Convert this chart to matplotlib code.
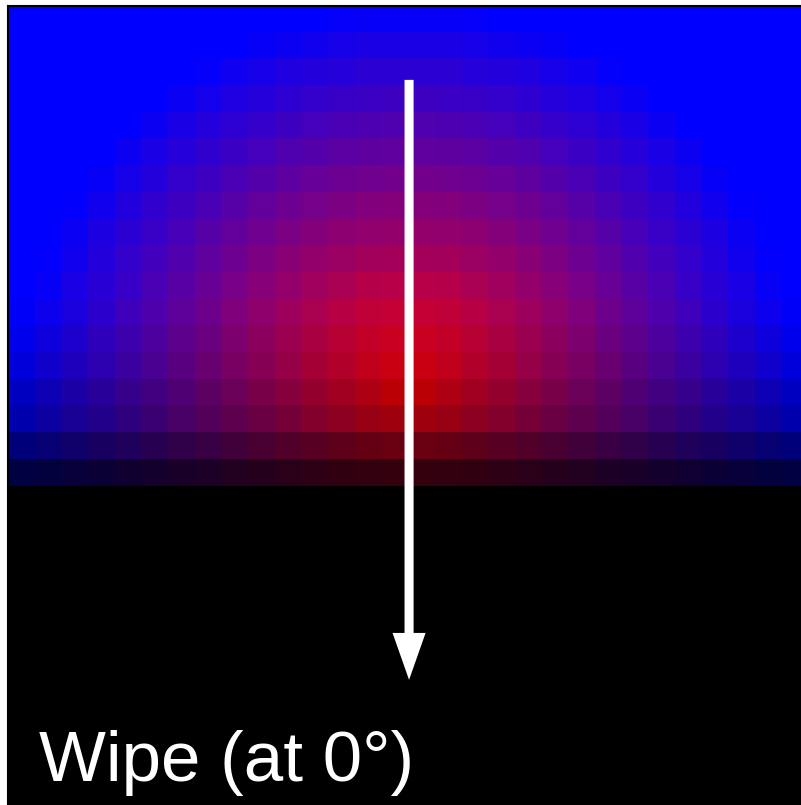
import numpy as np
import matplotlib
matplotlib.use("Agg")
import matplotlib.pyplot as plt


# ------------------------------------------- #
#  Data                #
# ------------------------------------------- #
# red share (percent) of every visible cell, rows top -> bottom, 30 columns
red_share = [
    [0, 0, 0, 0, 0, 0, 0, 0, 0, 0, 0, 0, 2, 3, 3, 3, 3, 2, 0, 0, 0, 0, 0, 0, 0, 0, 0, 0, 0, 0],
    [0, 0, 0, 0, 0, 0, 0, 0, 0, 3, 5, 7, 9, 10, 10, 10, 10, 9, 7, 5, 3, 0, 0, 0, 0, 0, 0, 0, 0, 0],
    [0, 0, 0, 0, 0, 0, 0, 2, 6, 9, 12, 14, 15, 17, 17, 17, 17, 15, 14, 12, 9, 6, 2, 0, 0, 0, 0, 0, 0, 0],
    [0, 0, 0, 0, 0, 0, 4, 8, 12, 15, 18, 20, 22, 23, 24, 24, 23, 22, 20, 18, 15, 12, 8, 4, 0, 0, 0, 0, 0, 0],
    [0, 0, 0, 0, 0, 5, 10, 14, 18, 21, 24, 27, 29, 30, 31, 31, 30, 29, 27, 24, 21, 18, 14, 10, 5, 0, 0, 0, 0, 0],
    [0, 0, 0, 0, 5, 10, 15, 19, 23, 27, 31, 33, 36, 37, 38, 38, 37, 36, 33, 31, 27, 23, 19, 15, 10, 5, 0, 0, 0, 0],
    [0, 0, 0, 3, 9, 14, 20, 24, 29, 33, 37, 40, 42, 44, 45, 45, 44, 42, 40, 37, 33, 29, 24, 20, 14, 9, 3, 0, 0, 0],
    [0, 0, 1, 7, 13, 19, 24, 29, 34, 39, 43, 46, 49, 51, 52, 52, 51, 49, 46, 43, 39, 34, 29, 24, 19, 13, 7, 1, 0, 0],
    [0, 0, 4, 11, 17, 22, 28, 34, 39, 44, 48, 52, 55, 57, 58, 58, 57, 55, 52, 48, 44, 39, 34, 28, 22, 17, 11, 4, 0, 0],
    [0, 1, 7, 14, 20, 26, 32, 38, 43, 49, 54, 58, 61, 64, 65, 65, 64, 61, 58, 54, 49, 43, 38, 32, 26, 20, 14, 7, 1, 0],
    [0, 3, 10, 16, 22, 29, 35, 41, 47, 53, 58, 63, 67, 71, 72, 72, 71, 67, 63, 58, 53, 47, 41, 35, 29, 22, 16, 10, 3, 0],
    [0, 5, 11, 18, 25, 31, 38, 44, 51, 57, 63, 68, 73, 77, 79, 79, 77, 73, 68, 63, 57, 51, 44, 38, 31, 25, 18, 11, 5, 0],
    [0, 6, 13, 20, 26, 33, 40, 46, 53, 60, 66, 72, 78, 83, 86, 86, 83, 78, 72, 66, 60, 53, 46, 40, 33, 26, 20, 13, 6, 0],
    [0, 7, 14, 20, 27, 34, 41, 48, 55, 61, 68, 75, 81, 88, 92, 92, 88, 81, 75, 68, 61, 55, 48, 41, 34, 27, 20, 14, 7, 0],
    [0, 7, 14, 21, 28, 34, 41, 48, 55, 62, 69, 76, 83, 90, 97, 97, 90, 83, 76, 69, 62, 55, 48, 41, 34, 28, 21, 14, 7, 0],
    [0, 7, 14, 20, 27, 34, 41, 48, 55, 61, 68, 75, 81, 88, 92, 92, 88, 81, 75, 68, 61, 55, 48, 41, 34, 27, 20, 14, 7, 0],
    [0, 6, 13, 20, 26, 33, 40, 46, 53, 60, 66, 72, 78, 83, 86, 86, 83, 78, 72, 66, 60, 53, 46, 40, 33, 26, 20, 13, 6, 0],
    [0, 5, 11, 18, 25, 31, 38, 44, 51, 57, 63, 68, 73, 77, 79, 79, 77, 73, 68, 63, 57, 51, 44, 38, 31, 25, 18, 11, 5, 0],
]

# brightness of each of the 30 rows (the wipe blacks out the lower part)
row_brightness = [1.0] * 11 + [0.98, 0.92, 0.86, 0.76, 0.68, 0.48, 0.26] + [0.0] * 12

n_cols = 30
label = "Wipe (at 0\u00b0)"


# ------------------------------------------- #
#  Build the colour grid                       #
# ------------------------------------------- #
grid = np.zeros((len(row_brightness), n_cols, 3))
for r, share_row in enumerate(red_share):
    share = np.array(share_row) / 100.0
    grid[r, :, 0] = share * row_brightness[r]
    grid[r, :, 2] = (1.0 - share) * row_brightness[r]


# ------------------------------------------- #
#  Figure                                      #
# ------------------------------------------- #
W, H = 801, 805
fig = plt.figure(figsize=(W / 100, H / 100), dpi=100, facecolor="white")
ax = fig.add_axes([8 / W, 1 - 806 / H, 800 / W, 800 / H])
ax.imshow(grid, extent=(0, n_cols, len(row_brightness), 0), interpolation="nearest", aspect="auto")
ax.set_xlim(0, n_cols)
ax.set_ylim(len(row_brightness), 0)
ax.set_xticks([])
ax.set_yticks([])
for side in ("top", "left"):
    ax.spines[side].set_linewidth(1.5)
    ax.spines[side].set_color("black")
for side in ("right", "bottom"):
    ax.spines[side].set_visible(False)

# wipe direction arrow
ax.arrow(15.04, 2.77, 0, 25.27 - 2.77, width=0.34, head_width=1.24, head_length=1.76,
         length_includes_head=True, color="white", linewidth=0)

fig.text(39 / W, 24 / H, label, color="white", fontsize=51, family="Liberation Sans",
         ha="left", va="baseline")

fig.savefig("out.png", dpi=100, facecolor="white")
